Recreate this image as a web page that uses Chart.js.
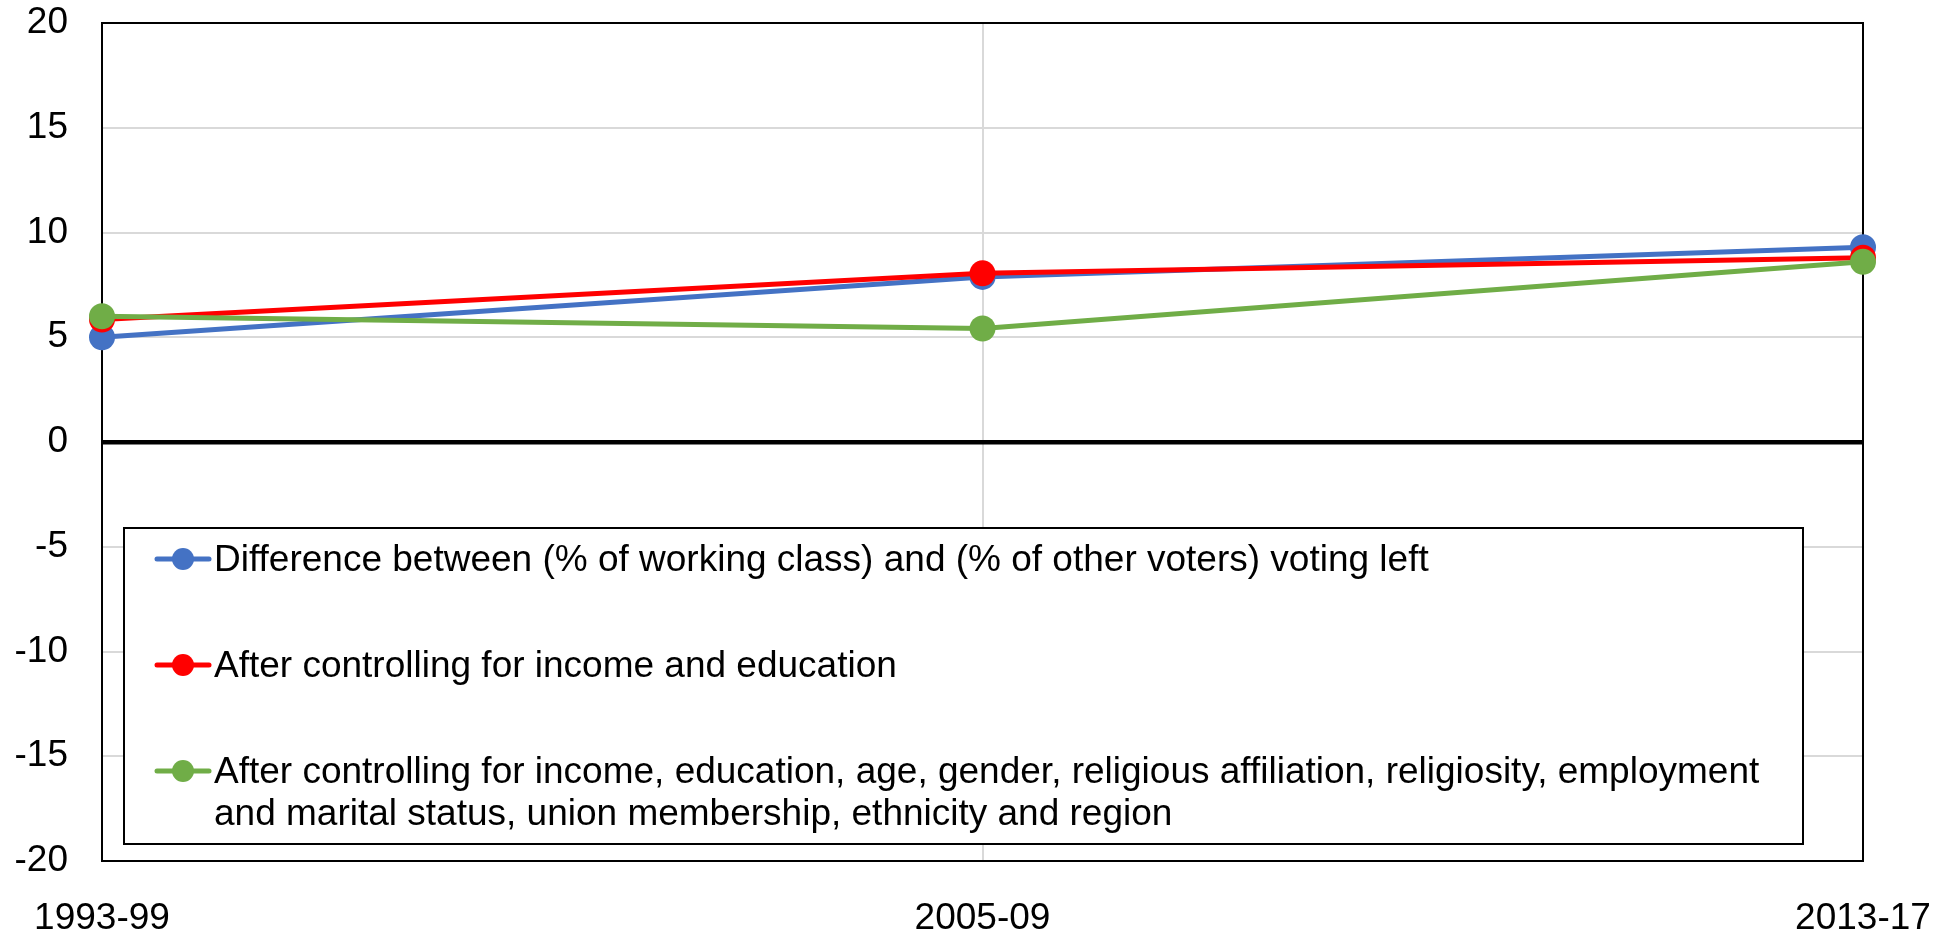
<!DOCTYPE html>
<html>
<head>
<meta charset="utf-8">
<script src="https://cdn.jsdelivr.net/npm/chart.js@4"></script>
<style>
html,body{margin:0;padding:0;background:#fff;}
#wrap{width:1953px;height:935px;position:relative;}
</style>
</head>
<body>
<div id="wrap"><canvas id="c" width="1953" height="935"></canvas></div>
<script>
const categories = ['1993-99', '2005-09', '2013-17'];
const seriesLabels = [
  'Difference between (% of working class) and (% of other voters) voting left',
  'After controlling for income and education',
  'After controlling for income, education, age, gender, religious affiliation, religiosity, employment and marital status, union membership, ethnicity and region'
];
const legendLines = [
  ['Difference between (% of working class) and (% of other voters) voting left'],
  ['After controlling for income and education'],
  ['After controlling for income, education, age, gender, religious affiliation, religiosity, employment',
   'and marital status, union membership, ethnicity and region']
];
const rawDifference = [5.0, 7.88, 9.3];
const afterIncomeEducation = [5.85, 8.05, 8.8];
const afterAllControls = [6.0, 5.42, 8.6];
const yTicks = [-20, -15, -10, -5, 0, 5, 10, 15, 20];

const colors = ['#4472C4', '#FF0000', '#70AD47'];
const FONT = "'Liberation Sans', Arial, sans-serif";
const FS = 37;

const frame = {
  id: 'frame',
  beforeDatasetsDraw(chart) {
    const a = chart.chartArea, ctx = chart.ctx;
    ctx.save();
    ctx.strokeStyle = '#000';
    ctx.lineWidth = 2;
    ctx.strokeRect(a.left, a.top, a.right - a.left, a.bottom - a.top);
    ctx.restore();
  }
};

const boxLegend = {
  id: 'boxLegend',
  afterDraw(chart) {
    const ctx = chart.ctx;
    const a = chart.chartArea;
    const x0 = a.left + 22, x1 = a.right - 60, y0 = 528, y1 = 844;
    ctx.save();
    ctx.fillStyle = '#fff';
    ctx.fillRect(x0, y0, x1 - x0, y1 - y0);
    ctx.strokeStyle = '#000';
    ctx.lineWidth = 2;
    ctx.strokeRect(x0, y0, x1 - x0, y1 - y0);
    const rows = [559, 665, 771];
    ctx.font = FS + 'px ' + FONT;
    ctx.textBaseline = 'middle';
    ctx.textAlign = 'left';
    chart.data.datasets.forEach((ds, i) => {
      const cy = rows[i];
      ctx.strokeStyle = ds.borderColor;
      ctx.lineWidth = 5;
      ctx.lineCap = 'round';
      ctx.beginPath();
      ctx.moveTo(x0 + 33, cy);
      ctx.lineTo(x0 + 85, cy);
      ctx.stroke();
      ctx.fillStyle = ds.borderColor;
      ctx.beginPath();
      ctx.arc(x0 + 59, cy, 11, 0, Math.PI * 2);
      ctx.fill();
      ctx.fillStyle = '#000';
      legendLines[i].forEach((ln, k) => {
        ctx.fillText(ln, x0 + 90, cy + 2 + k * 42);
      });
    });
    ctx.restore();
  }
};

const datasets = [rawDifference, afterIncomeEducation, afterAllControls].map((vals, i) => ({
  label: seriesLabels[i],
  data: vals,
  borderColor: colors[i],
  backgroundColor: colors[i],
  pointBackgroundColor: colors[i],
  pointBorderColor: colors[i],
  pointRadius: 13,
  pointBorderWidth: 0,
  borderWidth: 5,
  tension: 0,
  clip: false,
  order: 2 - i
}));

new Chart(document.getElementById('c'), {
  type: 'line',
  data: { labels: categories, datasets },
  plugins: [frame, boxLegend],
  options: {
    responsive: false,
    animation: false,
    layout: { padding: { top: 23, right: 90, left: 0, bottom: 0 } },
    plugins: { legend: { display: false }, tooltip: { enabled: false } },
    scales: {
      x: {
        type: 'category',
        offset: false,
        afterFit(s) { s.height = 74; s.paddingLeft = 0; s.paddingRight = 0; },
        grid: {
          drawTicks: false,
          color: (c) => (c.index === 1 ? '#d9d9d9' : 'rgba(0,0,0,0)'),
          lineWidth: 2
        },
        border: { display: false },
        ticks: {
          padding: 36,
          maxRotation: 0,
          autoSkip: false,
          color: '#000',
          font: { family: FONT, size: FS }
        }
      },
      y: {
        min: -20,
        max: 20,
        afterFit(s) { s.width = 102; s.paddingTop = 0; s.paddingBottom = 0; },
        afterBuildTicks(s) { s.ticks = yTicks.map(v => ({ value: v })); },
        grid: {
          drawTicks: false,
          color: (c) => (c.tick && c.tick.value === 0 ? '#000' : '#d9d9d9'),
          lineWidth: (c) => (c.tick && c.tick.value === 0 ? 4.5 : 2)
        },
        border: { display: false },
        ticks: {
          padding: 34,
          color: '#000',
          font: { family: FONT, size: FS }
        }
      }
    }
  }
});
</script>
</body>
</html>
